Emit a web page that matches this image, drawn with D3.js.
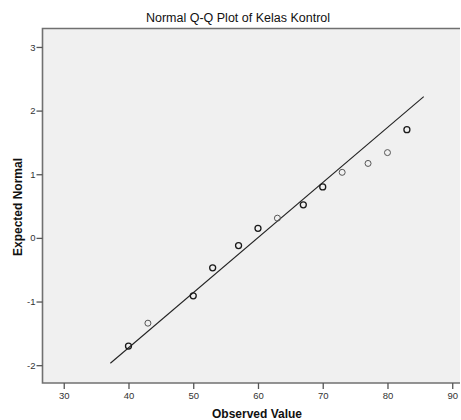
<!DOCTYPE html>
<html>
<head>
<meta charset="utf-8">
<script src="https://cdn.jsdelivr.net/npm/d3@7"></script>
<style>
  html, body { margin: 0; padding: 0; background: #fff; }
  svg { display: block; }
</style>
</head>
<body>
<svg id="chart" width="461" height="420"></svg>
<script>
// ---- data ----
const observed = [40, 43, 50, 53, 57, 60, 63, 67, 70, 73, 77, 80, 83];
const expected = [-1.70, -1.34, -0.91, -0.47, -0.12, 0.15, 0.31, 0.52, 0.80, 1.03, 1.17, 1.34, 1.70];
const frequency = [2, 1, 2, 2, 3, 2, 1, 2, 2, 1, 1, 1, 2];
const lineObserved = [37.2, 85.6];
const lineExpected = [-1.97, 2.22];
const xTicks = [30, 40, 50, 60, 70, 80, 90];
const yTicks = [-2, -1, 0, 1, 2, 3];
const title = "Normal Q-Q Plot of Kelas Kontrol";
const xLabel = "Observed Value";
const yLabel = "Expected Normal";

// ---- layout ----
const svg = d3.select("#chart");
const L = 42.5, T = 28.5, R = 460, B = 383;
const x = d3.scaleLinear().domain([26.72, 91.2]).range([L, R]);
const y = d3.scaleLinear().domain([-2.28, 3.29]).range([B, T]);

svg.append("rect").attr("x", L).attr("y", T).attr("width", R - L).attr("height", B - T)
  .attr("fill", "#f0f0f0");

// frame (top, left, bottom)
svg.append("path")
  .attr("d", `M${R},${T}H${L}V${B}H${R}`)
  .attr("fill", "none").attr("stroke", "#707070").attr("stroke-width", 1.6);

const font = "'Liberation Sans', Arial, sans-serif";
const fmt = (d) => String(d);

// x axis
const xAxis = svg.append("g").attr("transform", `translate(0,${B})`)
  .call(d3.axisBottom(x).tickValues(xTicks).tickSize(6).tickPadding(3).tickFormat(fmt));
xAxis.select(".domain").remove();
xAxis.selectAll("line").attr("stroke", "#555").attr("stroke-width", 1.3);
xAxis.selectAll("text").attr("fill", "#333").style("font-family", font).style("font-size", "9.5px");

// y axis
const yAxis = svg.append("g").attr("transform", `translate(${L},0)`)
  .call(d3.axisLeft(y).tickValues(yTicks).tickSize(6).tickPadding(1).tickFormat(fmt));
yAxis.select(".domain").remove();
yAxis.selectAll("line").attr("stroke", "#555").attr("stroke-width", 1.3);
yAxis.selectAll("text").attr("fill", "#333").style("font-family", font).style("font-size", "9.5px");

// reference line
svg.append("line")
  .attr("x1", x(lineObserved[0])).attr("y1", y(lineExpected[0]))
  .attr("x2", x(lineObserved[1])).attr("y2", y(lineExpected[1]))
  .attr("stroke", "#222").attr("stroke-width", 1.1);

// points
svg.append("g").selectAll("circle").data(observed).join("circle")
  .attr("cx", (d) => x(d))
  .attr("cy", (d, i) => y(expected[i]))
  .attr("r", 3)
  .attr("fill", "none")
  .attr("stroke", (d, i) => frequency[i] > 1 ? "#1a1a1a" : "#555")
  .attr("stroke-width", (d, i) => frequency[i] > 1 ? 1.3 : 1.0);

// title
svg.append("text").attr("x", 238).attr("y", 22).attr("text-anchor", "middle")
  .style("font-family", font).style("font-size", "12.5px").attr("fill", "#111")
  .text(title);

// axis titles
svg.append("text").attr("x", 257).attr("y", 418).attr("text-anchor", "middle")
  .style("font-family", font).style("font-size", "12px").style("font-weight", "bold").attr("fill", "#111")
  .text(xLabel);

svg.append("text").attr("transform", "translate(22,207) rotate(-90)").attr("text-anchor", "middle")
  .style("font-family", font).style("font-size", "12px").style("font-weight", "bold").attr("fill", "#111")
  .text(yLabel);
</script>
</body>
</html>
